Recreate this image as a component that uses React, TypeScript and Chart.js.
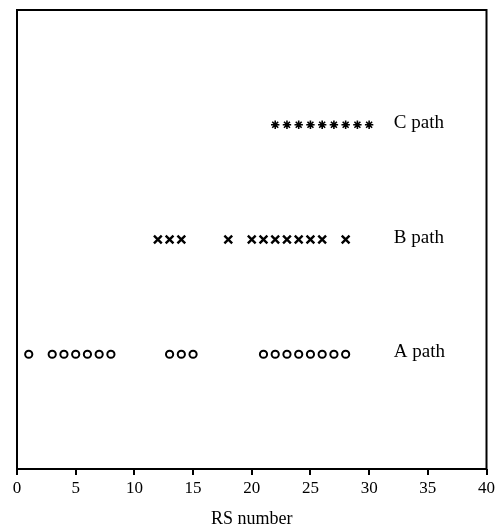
import React, { useEffect, useRef } from "react";
import { Chart, registerables } from "chart.js";

Chart.register(...registerables);

// RS numbers observed on each path
const aPathRS = [1, 3, 4, 5, 6, 7, 8, 13, 14, 15, 21, 22, 23, 24, 25, 26, 27, 28];
const bPathRS = [12, 13, 14, 18, 20, 21, 22, 23, 24, 25, 26, 28];
const cPathRS = [22, 23, 24, 25, 26, 27, 28, 29, 30];

// Row of each path on the vertical axis and its name
const pathRows = [1, 2, 3];
const pathNames = ["A path", "B path", "C path"];
const nameAnchorRS = 32.1;

const xTicks = [0, 5, 10, 15, 20, 25, 30, 35, 40];

const SERIF = "'Liberation Serif', 'Times New Roman', serif";

const framePlugin = {
  id: "frameAndNames",
  afterDraw(chart: any) {
    const { ctx, chartArea, scales } = chart;
    ctx.save();
    ctx.strokeStyle = "#000";
    ctx.lineWidth = 2;
    ctx.strokeRect(
      chartArea.left,
      chartArea.top,
      chartArea.right - chartArea.left,
      chartArea.bottom - chartArea.top
    );
    ctx.fillStyle = "#000";
    ctx.font = `19px ${SERIF}`;
    ctx.textAlign = "left";
    ctx.textBaseline = "alphabetic";
    pathNames.forEach((name, i) => {
      const x = scales.x.getPixelForValue(nameAnchorRS);
      const y = scales.y.getPixelForValue(pathRows[i]);
      ctx.fillText(name, x, y + 3);
    });
    ctx.restore();
  },
};

export default function App() {
  const canvasRef = useRef<HTMLCanvasElement>(null);

  useEffect(() => {
    document.body.style.margin = "0";
    const toPoints = (xs: number[], row: number) => xs.map((x) => ({ x, y: row }));
    const chart = new Chart(canvasRef.current!, {
      type: "scatter",
      data: {
        datasets: [
          {
            label: pathNames[0],
            data: toPoints(aPathRS, pathRows[0]),
            pointStyle: "circle",
            radius: 3.6,
            borderWidth: 2,
            borderColor: "#000",
            backgroundColor: "rgba(0,0,0,0)",
          },
          {
            label: pathNames[1],
            data: toPoints(bPathRS, pathRows[1]),
            pointStyle: "crossRot",
            radius: 5.5,
            borderWidth: 2.4,
            borderColor: "#000",
            backgroundColor: "#000",
          },
          {
            label: pathNames[2],
            data: toPoints(cPathRS, pathRows[2]),
            pointStyle: "star",
            radius: 4.2,
            borderWidth: 1.6,
            borderColor: "#000",
            backgroundColor: "#000",
          },
        ],
      },
      options: {
        animation: false,
        responsive: false,
        events: [],
        layout: { padding: { top: 10, right: 11, bottom: 0, left: 0 } },
        plugins: { legend: { display: false }, tooltip: { enabled: false } },
        scales: {
          x: {
            type: "linear",
            min: 0,
            max: 40,
            afterBuildTicks: (scale: any) => {
              scale.ticks = xTicks.map((v) => ({ value: v }));
            },
            afterFit: (scale: any) => {
              scale.height = 63;
            },
            grid: {
              display: true,
              drawOnChartArea: false,
              drawTicks: true,
              tickLength: 6,
              color: "#000",
              lineWidth: 2,
            },
            border: { display: false },
            ticks: {
              color: "#000",
              padding: 3,
              maxRotation: 0,
              font: { family: SERIF, size: 17 },
            },
            title: {
              display: true,
              text: "RS number",
              color: "#000",
              padding: { top: 4, bottom: 2 },
              font: { family: SERIF, size: 18 },
            },
          },
          y: {
            type: "linear",
            min: 0,
            max: 4,
            afterFit: (scale: any) => {
              scale.width = 17;
            },
            grid: { display: false },
            border: { display: false },
            ticks: { display: false },
          },
        },
      },
      plugins: [framePlugin],
    });
    return () => chart.destroy();
  }, []);

  return (
    <div style={{ position: "absolute", left: 0, top: 0, width: 498, height: 532 }}>
      <canvas ref={canvasRef} width={498} height={532} />
    </div>
  );
}
